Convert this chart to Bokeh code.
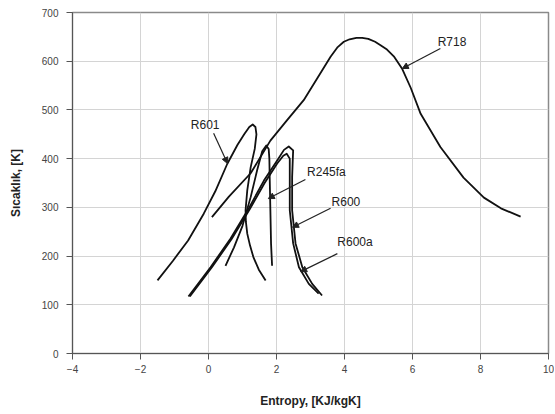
from bokeh.plotting import figure
from bokeh.models import Range1d, FixedTicker, Arrow, NormalHead, Label
from bokeh.embed import file_html
from bokeh.resources import INLINE

# ---- data (entropy kJ/kgK, temperature K) ----
s_R718 = [0.10, 0.60, 1.24, 1.82, 2.30, 2.80, 3.20, 3.59, 3.80, 3.98, 4.15, 4.35, 4.52, 4.70, 4.90, 5.06, 5.25, 5.45, 5.70, 5.95, 6.24, 6.82, 7.50, 8.10, 8.60, 9.18]
T_R718 = [280, 322, 370, 437, 478, 520, 565, 609, 629, 640, 645, 648, 648, 646, 640, 633, 624, 610, 584, 545, 492, 424, 361, 320, 298, 281]

s_R601 = [-1.50, -1.05, -0.60, -0.14, 0.20, 0.55, 0.85, 1.05, 1.20, 1.30, 1.38, 1.41, 1.36, 1.24, 1.14, 1.09, 1.10, 1.14, 1.22, 1.32, 1.48, 1.68]
T_R601 = [150, 190, 232, 287, 333, 389, 428, 450, 465, 470, 465, 450, 420, 382, 335, 294, 270, 246, 222, 198, 172, 150]

s_R245fa = [0.50, 0.75, 1.00, 1.24, 1.43, 1.58, 1.70, 1.77, 1.79, 1.80, 1.82, 1.84, 1.87]
T_R245fa = [180, 218, 262, 321, 376, 415, 427, 420, 400, 362, 294, 225, 180]

s_R600 = [-0.59, 0.06, 0.65, 1.20, 1.63, 2.02, 2.22, 2.36, 2.49, 2.48, 2.46, 2.46, 2.56, 2.76, 3.05, 3.34]
T_R600 = [117, 177, 236, 300, 355, 396, 418, 425, 417, 400, 362, 294, 226, 177, 143, 119]

s_R600a = [-0.55, 0.10, 0.68, 1.22, 1.65, 2.02, 2.20, 2.30, 2.39, 2.39, 2.39, 2.49, 2.66, 2.95, 3.24]
T_R600a = [117, 177, 235, 297, 350, 390, 406, 410, 400, 362, 294, 226, 177, 143, 123]

# labels: text, text position (left x, middle y), arrow start, arrow tip
label_text = ["R718", "R601", "R245fa", "R600", "R600a"]
label_x = [6.74, -0.52, 2.90, 3.62, 3.79]
label_y = [639, 470, 372, 312, 228]
arrow_x0 = [6.82, 0.15, 2.85, 3.59, 3.79]
arrow_y0 = [626, 452, 357, 298, 205]
arrow_x1 = [5.70, 0.56, 1.76, 2.47, 2.71]
arrow_y1 = [585, 390, 318, 259, 168]

x_ticks = [-4, -2, 0, 2, 4, 6, 8, 10]
y_ticks = [0, 100, 200, 300, 400, 500, 600, 700]

FONT = "Liberation Sans"

p = figure(width=554, height=413, output_backend="svg", toolbar_location=None,
           x_range=Range1d(-4, 10), y_range=Range1d(0, 700),
           min_border_left=72, min_border_right=6, min_border_top=12, min_border_bottom=60)

p.xaxis.ticker = FixedTicker(ticks=x_ticks)
p.yaxis.ticker = FixedTicker(ticks=y_ticks)
for ax in (p.xaxis[0], p.yaxis[0]):
    ax.major_label_text_font = FONT
    ax.major_label_text_font_size = "10px"
    ax.major_label_text_color = "#444444"
    ax.axis_label_text_font = FONT
    ax.axis_label_text_font_size = "12px"
    ax.axis_label_text_font_style = "bold"
    ax.axis_label_text_color = "#222222"
    ax.axis_line_color = "#555555"
    ax.major_tick_line_color = "#555555"
    ax.major_tick_out = 6
    ax.major_tick_in = 0
    ax.minor_tick_line_color = None
p.xaxis.axis_label = "Entropy, [KJ/kgK]"
p.yaxis.axis_label = "Sıcaklık, [K]"
p.xaxis.major_label_standoff = 5
p.yaxis.major_label_standoff = 8
p.xaxis.axis_label_standoff = 18
p.yaxis.axis_label_standoff = 16

p.grid.grid_line_color = "#d4d4d4"
p.grid.grid_line_width = 1
p.outline_line_color = "#8a8a8a"
p.outline_line_width = 1.5
p.background_fill_color = "white"
p.border_fill_color = "white"

for s, T in [(s_R718, T_R718), (s_R601, T_R601), (s_R245fa, T_R245fa), (s_R600, T_R600), (s_R600a, T_R600a)]:
    p.line(s, T, line_color="#111111", line_width=1.8, line_join="round")

for i, t in enumerate(label_text):
    p.add_layout(Label(x=label_x[i], y=label_y[i], text=t, text_font=FONT, text_font_size="12px",
                       text_color="#222222", text_baseline="middle", text_align="left"))
    p.add_layout(Arrow(x_start=arrow_x0[i], y_start=arrow_y0[i], x_end=arrow_x1[i], y_end=arrow_y1[i],
                       line_color="#222222", line_width=1.2,
                       end=NormalHead(size=6, fill_color="#222222", line_color="#222222")))

open("out.html", "w").write(file_html(p, INLINE))
